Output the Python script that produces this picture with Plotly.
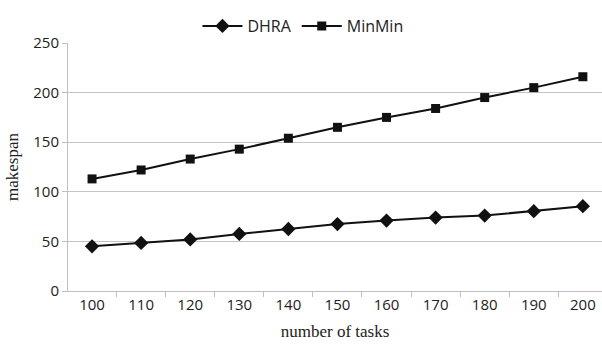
import plotly.graph_objects as go

tasks = [100, 110, 120, 130, 140, 150, 160, 170, 180, 190, 200]
dhra = [45, 48.5, 52, 57.5, 62.5, 67.5, 71, 74, 76, 80.5, 85.5]
minmin = [113, 122, 133, 143, 154, 165, 175, 184, 195, 205, 216]
y_ticks = [0, 50, 100, 150, 200, 250]

fig = go.Figure()
fig.add_trace(go.Scatter(x=tasks, y=dhra, name="DHRA", mode="lines+markers",
                         line=dict(color="#111111", width=2),
                         marker=dict(symbol="diamond", size=11, color="#111111")))
fig.add_trace(go.Scatter(x=tasks, y=minmin, name="MinMin", mode="lines+markers",
                         line=dict(color="#111111", width=2),
                         marker=dict(symbol="square", size=9, color="#111111")))

fig.update_layout(
    width=602, height=348,
    margin=dict(l=68, r=0, t=43, b=57),
    paper_bgcolor="white", plot_bgcolor="white",
    font=dict(family="Open Sans, sans-serif", size=15, color="#222222"),
    showlegend=True,
    legend=dict(orientation="h", x=0.44, xanchor="center", y=1.0, yanchor="bottom",
                font=dict(family="Open Sans, sans-serif", size=16, color="#222222"),
                itemwidth=40, tracegroupgap=0),
    xaxis=dict(range=[95.1, 203.9], tickvals=tasks, ticktext=[str(t) for t in tasks],
               ticks="", showgrid=False, zeroline=False,
               showline=True, linecolor="#bfbfbf", linewidth=1,
               minor=dict(tick0=95, dtick=10, ticks="outside", ticklen=5,
                          tickcolor="#bfbfbf", showgrid=False),
               tickfont=dict(size=15),
               title=dict(text="number of tasks", standoff=12,
                          font=dict(family="Liberation Serif, serif", size=17, color="#222222"))),
    yaxis=dict(range=[0, 250], tickvals=y_ticks, ticks="outside", ticklen=5,
               tickcolor="#bfbfbf", showgrid=True, gridcolor="#c4c4c4", gridwidth=1,
               zeroline=False, showline=True, linecolor="#bfbfbf", linewidth=1,
               tickfont=dict(size=15),
               title=dict(text="makespan", standoff=10,
                          font=dict(family="Liberation Serif, serif", size=17, color="#222222"))),
)

fig.write_html("out.html")
